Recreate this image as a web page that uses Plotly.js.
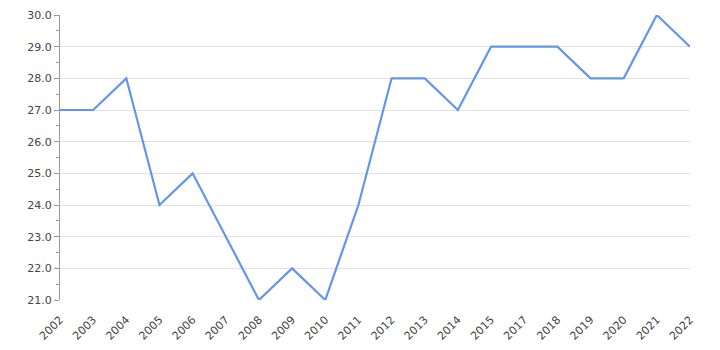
<!DOCTYPE html>
<html>
<head>
<meta charset="utf-8">
<script src="https://cdn.plot.ly/plotly-3.0.1.min.js"></script>
<style>html,body{margin:0;padding:0;background:#fff;}#chart{width:720px;height:350px;}</style>
</head>
<body>
<div id="chart"></div>
<script>
var years = ["2002","2003","2004","2005","2006","2007","2008","2009","2010","2011","2012","2013","2014","2015","2017","2018","2019","2020","2021","2022"];
var values = [27,27,28,24,25,23,21,22,21,24,28,28,27,29,29,29,28,28,30,29];
var yTicks = [21,22,23,24,25,26,27,28,29,30];

var trace = {
  x: years, y: values, type: 'scatter', mode: 'lines',
  line: {color: '#6495ED', width: 2.2},
  hoverinfo: 'x+y'
};
var layout = {
  width: 720, height: 350,
  margin: {l: 60, r: 30, t: 15, b: 50},
  paper_bgcolor: '#fff', plot_bgcolor: '#fff',
  showlegend: false,
  font: {family: 'DejaVu Sans, sans-serif', size: 11, color: '#444'},
  xaxis: {
    type: 'category', range: [0, years.length - 1],
    tickangle: -45, showgrid: false, zeroline: false,
    showline: false, ticks: 'outside', ticklen: 8, tickcolor: 'rgba(0,0,0,0)',
    tickfont: {size: 11, color: '#444'}
  },
  yaxis: {
    range: [21, 30], tickvals: yTicks,
    ticktext: yTicks.map(function(v){return v.toFixed(1);}),
    showgrid: true, gridcolor: '#e2e2e2', gridwidth: 1,
    zeroline: false, showline: true, linecolor: '#999', linewidth: 1,
    ticks: 'outside', ticklen: 5, tickcolor: '#999',
    minor: {dtick: 0.5, ticks: 'outside', ticklen: 3, tickcolor: '#999', showgrid: false},
    tickfont: {size: 11, color: '#444'}
  }
};
Plotly.newPlot('chart', [trace], layout, {displayModeBar: false, staticPlot: true});
</script>
</body>
</html>
